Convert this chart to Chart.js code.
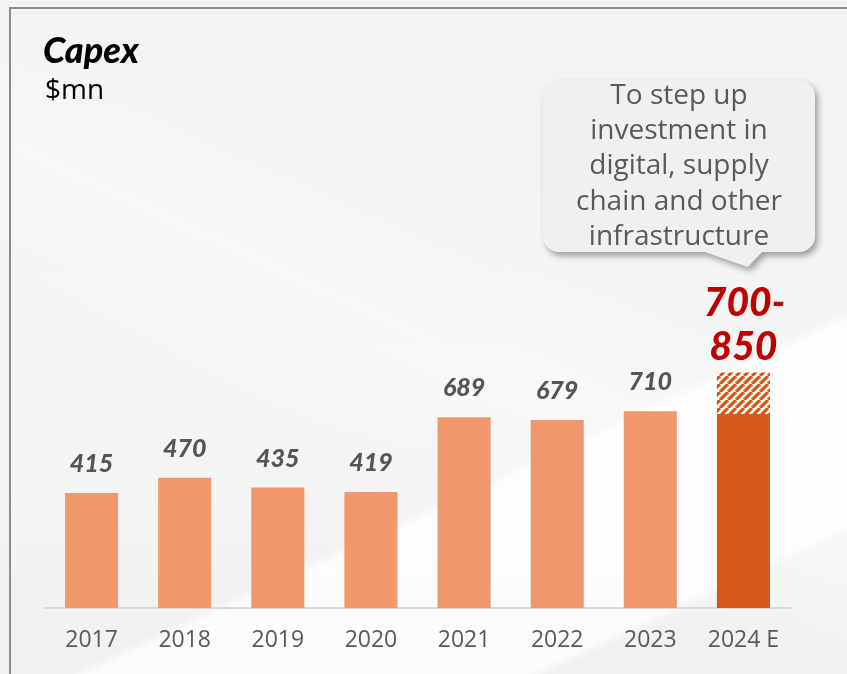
<!DOCTYPE html>
<html>
<head>
<meta charset="utf-8">
<script src="https://cdn.jsdelivr.net/npm/chart.js@4.4.1/dist/chart.umd.min.js"></script>
<style>
  body {
    margin: 0;
    width: 847px;
    height: 674px;
    overflow: hidden;
    position: relative;
    font-family: Lato, 'Noto Sans', sans-serif;
    background:
      linear-gradient(155deg, rgba(255,255,255,0) 66%, rgba(255,255,255,0.8) 67%, rgba(255,255,255,0.8) 86%, rgba(255,255,255,0) 87%),
      linear-gradient(205deg, rgba(255,255,255,0) 35%, rgba(255,255,255,0.35) 50%, rgba(255,255,255,0) 65%),
      linear-gradient(180deg, #f4f3f3 0%, #f6f5f5 60%, #f2f1f1 100%);
  }
  #frame {
    position: absolute;
    left: 9px;
    top: 7px;
    width: 860px;
    height: 690px;
    border: 2px solid #8c8c8c;
    box-sizing: border-box;
  }
  #title {
    position: absolute;
    left: 43px;
    top: 29px;
    font-size: 36px;
    line-height: 40px;
    font-weight: 900;
    font-style: italic;
    color: #000;
  }
  #unit {
    position: absolute;
    left: 45px;
    top: 73px;
    font-family: 'Open Sans', Lato, sans-serif;
    font-size: 28px;
    line-height: 30px;
    color: #000;
  }
  #callout {
    position: absolute;
    left: 543px;
    top: 80px;
    width: 272px;
    height: 188px;
    filter: drop-shadow(3px 4px 3px rgba(0,0,0,0.35));
  }
  #callout .box {
    position: absolute;
    left: 0;
    top: 0;
    width: 272px;
    height: 172px;
    background: #f0f0f0;
    border-radius: 16px;
  }
  #callout .tail {
    position: absolute;
    left: 159px;
    top: 171px;
    width: 61px;
    height: 16px;
    background: #f0f0f0;
    clip-path: polygon(0 0, 100% 0, 75% 100%);
  }
  #callout .text {
    position: absolute;
    left: 0;
    top: -4px;
    width: 272px;
    text-align: center;
    font-family: 'Open Sans', Lato, sans-serif;
    font-size: 28px;
    line-height: 35.2px;
    color: #595959;
  }
  canvas { position: absolute; left: 0; top: 0; }
</style>
</head>
<body>
<div id="frame"></div>
<canvas id="capex" width="847" height="674"></canvas>
<div id="title">Capex</div>
<div id="unit">$mn</div>
<div id="callout">
  <div class="box"></div>
  <div class="tail"></div>
  <div class="text">To step up<br>investment in<br>digital, supply<br>chain and other<br>infrastructure</div>
</div>
<script>
const years = ['2017', '2018', '2019', '2020', '2021', '2022', '2023', '2024 E'];
const capex = [415, 470, 435, 419, 689, 679, 710, 700];
// upper end of the guidance range, only for the estimate year
const capexHigh = [null, null, null, null, null, null, null, 850];

const lightOrange = '#F0986C';
const darkOrange = '#D4581A';

// diagonal stripes for the guidance range
function makeHatch() {
    const size = 8;
    const c = document.createElement('canvas');
    c.width = size;
    c.height = size;
    const g = c.getContext('2d');
    g.fillStyle = '#ffffff';
    g.fillRect(0, 0, size, size);
    g.strokeStyle = darkOrange;
    g.lineWidth = 3.2;
    g.beginPath();
    for (let k = -1; k <= 1; k++) {
        g.moveTo(k * size, size);
        g.lineTo(k * size + size, 0);
    }
    g.stroke();
    return g.createPattern(c, 'repeat');
}

const valueLabels = {
    id: 'valueLabels',
    afterDatasetsDraw(chart) {
        const ctx = chart.ctx;
        const base = chart.getDatasetMeta(0).data;
        const range = chart.getDatasetMeta(1).data;
        ctx.save();
        ctx.textAlign = 'center';
        ctx.textBaseline = 'alphabetic';
        base.forEach((bar, i) => {
            if (capexHigh[i] == null) {
                ctx.font = 'italic 900 25px Lato, sans-serif';
                ctx.fillStyle = '#555555';
                ctx.fillText(String(capex[i]), bar.x, bar.y - 21);
            } else {
                const top = range[i].y;
                ctx.font = 'italic 900 39px Lato, sans-serif';
                ctx.fillStyle = '#C00000';
                ctx.fillText(capex[i] + '-', bar.x + 1, top - 57);
                ctx.fillText(String(capexHigh[i]), bar.x, top - 13);
            }
        });
        ctx.restore();
    }
};

const chart = new Chart(document.getElementById('capex').getContext('2d'), {
    type: 'bar',
    data: {
        labels: years,
        datasets: [{
            data: capex,
            backgroundColor: ctx => capexHigh[ctx.dataIndex] == null ? lightOrange : darkOrange,
            barPercentage: 0.57,
            categoryPercentage: 1,
            grouped: false
        }, {
            data: capexHigh.map((h, i) => h == null ? null : [capex[i], h]),
            backgroundColor: makeHatch(),
            barPercentage: 0.57,
            categoryPercentage: 1,
            grouped: false
        }]
    },
    options: {
        responsive: false,
        devicePixelRatio: 1,
        animation: false,
        layout: {
            padding: { left: 45, right: 57, top: 331, bottom: 0 }
        },
        plugins: {
            legend: { display: false },
            tooltip: { enabled: false }
        },
        scales: {
            x: {
                grid: { display: false, drawTicks: false },
                border: { display: true, color: '#d9d9d9', width: 2 },
                ticks: {
                    color: '#595959',
                    font: { family: "'Open Sans', Lato, sans-serif", size: 23 },
                    padding: 19
                },
                afterFit: scale => { scale.height = 66; }
            },
            y: {
                display: false,
                min: 0,
                max: 1000
            }
        }
    },
    plugins: [valueLabels]
});
</script>
</body>
</html>
